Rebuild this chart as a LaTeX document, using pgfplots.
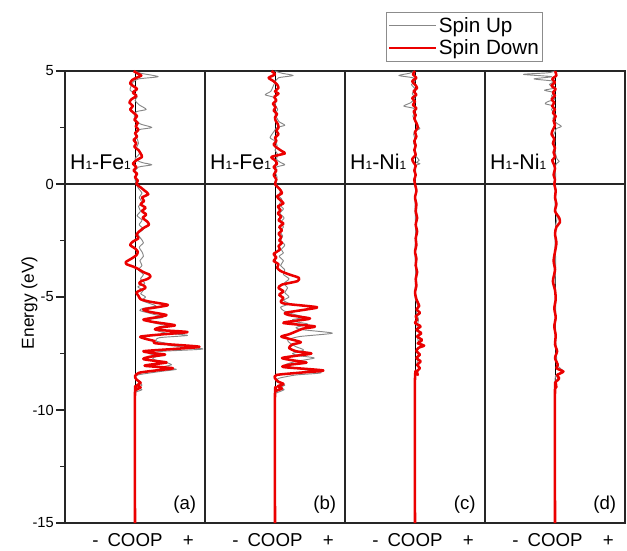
\documentclass[border=0pt]{standalone}
\usepackage{pgfplots}
\usepackage{pgfplotstable}
\pgfplotsset{compat=1.18}
\usepackage{fontspec}
\setmainfont{Liberation Sans}
\definecolor{spinup}{RGB}{135,135,135}
\definecolor{spindn}{RGB}{235,0,0}

% ---------- panel (a) H1-Fe1 ----------
\pgfplotstableread{
c E
0.0 5.0
0.08 4.9
0.33 4.75
0.05 4.65
-0.03 4.5
-0.06 4.3
-0.07 4.15
0.0 4.0
0.03 3.85
0.0 3.7
0.06 3.5
0.16 3.3
0.02 3.2
-0.01 3.0
0.02 2.8
0.08 2.65
0.24 2.5
0.05 2.4
0.0 2.2
0.03 2.0
0.05 1.8
0.02 1.6
0.07 1.4
0.04 1.25
0.0 1.1
0.1 0.95
0.24 0.85
0.05 0.75
0.0 0.55
0.02 0.4
0.0 0.2
0.02 0.0
0.05 -0.2
0.1 -0.4
0.06 -0.6
0.1 -0.8
0.05 -1.0
0.08 -1.2
0.03 -1.4
0.1 -1.6
0.06 -1.8
0.12 -2.0
0.04 -2.2
0.08 -2.4
0.12 -2.6
0.06 -2.8
0.1 -3.0
0.12 -3.2
0.07 -3.4
0.1 -3.6
0.05 -3.8
0.12 -4.0
0.08 -4.2
0.14 -4.4
0.04 -4.55
0.12 -4.7
0.08 -4.85
0.15 -5.0
0.1 -5.15
0.22 -5.3
0.3 -5.4
0.12 -5.5
0.07 -5.6
0.25 -5.75
0.4 -5.9
0.2 -6.0
0.28 -6.15
0.47 -6.3
0.3 -6.45
0.45 -6.6
0.75 -6.7
0.35 -6.8
0.3 -6.95
0.45 -7.05
0.5 -7.15
0.97 -7.3
0.4 -7.4
0.2 -7.5
0.33 -7.6
0.25 -7.7
0.3 -7.8
0.45 -7.9
0.52 -8.0
0.4 -8.1
0.59 -8.2
0.35 -8.3
0.04 -8.45
0.0 -8.6
0.05 -8.75
0.1 -8.9
0.04 -9.0
0.1 -9.1
0.02 -9.2
0.0 -9.35
0.0 -15
}\aup
\pgfplotstableread{
c E
-0.02 5.0
0.03 4.9
0.09 4.8
0.02 4.7
-0.04 4.6
-0.07 4.45
-0.01 4.3
0.03 4.2
-0.03 4.05
0.02 3.9
-0.05 3.75
-0.08 3.6
-0.03 3.45
-0.07 3.3
-0.02 3.15
0.03 3.0
-0.01 2.85
0.04 2.7
0.01 2.55
0.05 2.4
0.0 2.25
0.03 2.1
-0.02 1.95
0.02 1.8
-0.01 1.65
0.05 1.5
0.08 1.35
0.1 1.2
0.02 1.05
-0.03 0.9
0.02 0.75
-0.02 0.6
0.03 0.45
0.0 0.3
0.04 0.15
0.02 0.0
0.08 -0.15
0.14 -0.3
0.19 -0.45
0.1 -0.6
0.13 -0.75
0.08 -0.9
0.15 -1.05
0.1 -1.2
0.16 -1.35
0.11 -1.5
0.17 -1.65
0.2 -1.8
0.12 -1.95
0.06 -2.1
0.02 -2.25
0.05 -2.4
-0.03 -2.55
-0.07 -2.7
0.0 -2.85
0.04 -3.0
0.02 -3.15
-0.05 -3.3
-0.13 -3.45
-0.12 -3.55
-0.03 -3.65
0.04 -3.75
0.12 -3.9
0.2 -4.0
0.22 -4.1
0.18 -4.2
0.09 -4.3
0.06 -4.4
0.13 -4.5
0.15 -4.6
0.08 -4.7
0.02 -4.8
0.05 -4.95
0.08 -5.1
0.2 -5.2
0.47 -5.35
0.32 -5.45
0.12 -5.55
0.2 -5.65
0.45 -5.8
0.3 -5.9
0.12 -6.0
0.25 -6.1
0.57 -6.25
0.35 -6.35
0.3 -6.45
0.75 -6.55
0.4 -6.65
0.08 -6.75
0.15 -6.85
0.28 -6.95
0.3 -7.05
0.92 -7.2
0.55 -7.3
0.12 -7.4
0.3 -7.5
0.43 -7.55
0.2 -7.65
0.12 -7.75
0.35 -7.85
0.45 -7.9
0.2 -8.0
0.15 -8.05
0.54 -8.15
0.3 -8.25
0.06 -8.35
0.0 -8.5
0.02 -8.65
0.08 -8.8
0.03 -8.9
0.08 -9.0
0.02 -9.1
0.0 -9.25
0.0 -15
}\adn

% ---------- panel (b) H1-Fe1 ----------
\pgfplotstableread{
c E
0.0 5.0
0.1 4.9
0.26 4.8
0.05 4.7
0.0 4.5
-0.03 4.3
-0.06 4.1
-0.14 3.95
-0.03 3.85
0.02 3.7
0.0 3.5
0.04 3.3
0.0 3.1
0.03 2.9
0.06 2.75
0.14 2.6
0.03 2.5
-0.02 2.3
-0.07 2.05
0.0 1.9
0.03 1.7
0.0 1.5
0.04 1.3
0.02 1.1
0.08 0.95
0.14 0.85
0.02 0.75
0.0 0.55
0.03 0.3
0.0 0.1
0.04 -0.1
0.08 -0.3
0.05 -0.5
0.1 -0.7
0.06 -0.9
0.12 -1.1
0.07 -1.3
0.13 -1.5
0.08 -1.7
0.12 -1.9
0.07 -2.1
0.11 -2.3
0.08 -2.5
0.14 -2.7
0.09 -2.9
0.12 -3.05
0.06 -3.2
0.12 -3.4
0.08 -3.6
0.14 -3.8
0.12 -4.0
0.2 -4.2
0.13 -4.4
0.18 -4.6
0.14 -4.8
0.2 -5.0
0.12 -5.15
0.2 -5.3
0.08 -5.45
0.12 -5.6
0.25 -5.75
0.42 -5.9
0.25 -6.0
0.3 -6.1
0.47 -6.2
0.3 -6.35
0.4 -6.45
0.82 -6.6
0.35 -6.75
0.18 -6.9
0.22 -7.05
0.3 -7.2
0.41 -7.35
0.25 -7.5
0.35 -7.6
0.56 -7.7
0.3 -7.85
0.15 -8.0
0.3 -8.15
0.66 -8.35
0.3 -8.45
0.05 -8.6
0.02 -8.75
0.14 -8.9
0.06 -9.0
0.13 -9.1
0.02 -9.25
0.0 -9.4
0.0 -15
}\bup
\pgfplotstableread{
c E
-0.05 5.0
0.0 4.85
-0.09 4.7
-0.02 4.55
0.03 4.4
0.05 4.25
0.0 4.1
0.05 4.0
-0.01 3.85
0.02 3.7
-0.03 3.55
0.01 3.4
-0.02 3.25
0.03 3.1
0.0 2.95
0.01 2.8
0.04 2.65
0.05 2.5
0.02 2.35
0.05 2.2
0.0 2.05
0.02 1.9
-0.02 1.75
0.03 1.6
0.1 1.45
0.14 1.35
-0.05 1.2
0.0 1.05
0.03 0.9
-0.02 0.75
0.02 0.6
-0.02 0.4
0.02 0.2
0.0 0.0
0.06 -0.2
0.1 -0.4
0.03 -0.55
0.07 -0.7
0.12 -0.85
0.04 -1.0
0.08 -1.15
0.04 -1.3
0.09 -1.45
0.05 -1.6
0.12 -1.75
0.06 -1.9
0.1 -2.05
0.05 -2.2
0.09 -2.35
0.06 -2.5
0.1 -2.6
0.05 -2.75
0.07 -2.9
-0.02 -3.1
0.02 -3.25
-0.02 -3.4
0.05 -3.55
0.03 -3.7
0.08 -3.85
0.2 -4.0
0.34 -4.15
0.32 -4.3
0.1 -4.45
0.05 -4.6
0.12 -4.75
0.06 -4.9
0.12 -5.05
0.08 -5.2
0.15 -5.3
0.6 -5.45
0.45 -5.55
0.15 -5.7
0.2 -5.8
0.5 -5.95
0.3 -6.05
0.12 -6.15
0.57 -6.3
0.4 -6.4
0.28 -6.55
0.2 -6.65
0.09 -6.75
0.2 -6.85
0.37 -7.0
0.25 -7.1
0.2 -7.25
0.3 -7.4
0.52 -7.5
0.3 -7.6
0.1 -7.7
0.25 -7.8
0.45 -7.9
0.2 -8.0
0.12 -8.1
0.69 -8.25
0.35 -8.35
0.02 -8.45
0.0 -8.6
0.05 -8.75
0.12 -8.85
0.04 -8.95
0.1 -9.05
0.02 -9.15
0.0 -9.3
0.0 -15
}\bdn

% ---------- panel (c) H1-Ni1 ----------
\pgfplotstableread{
c E
0.0 5.0
-0.08 4.9
-0.23 4.8
-0.03 4.7
0.0 4.55
-0.05 4.4
0.0 4.2
-0.04 4.0
0.0 3.8
-0.06 3.6
-0.16 3.45
-0.02 3.35
0.0 3.2
-0.03 3.0
0.0 2.8
0.03 2.6
0.07 2.45
0.0 2.35
-0.02 2.2
0.0 2.0
-0.02 1.8
0.01 1.6
-0.01 1.4
0.02 1.2
0.06 1.05
0.02 0.95
0.07 0.9
0.0 0.8
0.01 0.6
0.0 0.3
0.0 0.0
0.01 -0.3
0.0 -1.0
0.01 -2.0
0.0 -3.0
0.01 -4.0
0.0 -5.0
0.04 -5.4
0.02 -5.7
0.05 -6.0
0.03 -6.3
0.06 -6.6
0.04 -6.9
0.12 -7.15
0.03 -7.3
0.05 -7.6
0.03 -7.9
0.06 -8.2
0.02 -8.4
0.0 -8.6
0.0 -15
}\cup
\pgfplotstableread{
c E
0.0 5.0
-0.03 4.85
0.02 4.7
-0.04 4.55
0.0 4.4
0.03 4.25
-0.02 4.1
0.02 3.95
-0.04 3.8
0.0 3.65
-0.03 3.5
0.02 3.35
-0.02 3.2
0.01 3.05
-0.01 2.9
0.02 2.7
0.04 2.5
0.0 2.3
0.02 2.1
-0.01 1.9
0.01 1.7
-0.01 1.5
0.01 1.3
-0.04 1.1
-0.02 0.95
0.01 0.8
-0.01 0.6
0.01 0.4
-0.01 0.2
0.0 0.0
0.02 -0.3
0.0 -0.6
0.02 -0.9
0.01 -1.2
0.03 -1.5
0.01 -1.8
0.03 -2.1
0.01 -2.4
0.02 -2.7
0.0 -3.0
0.02 -3.3
0.01 -3.6
0.03 -3.9
0.01 -4.2
0.02 -4.5
0.0 -4.8
0.02 -5.1
0.06 -5.4
0.02 -5.55
0.07 -5.7
0.01 -5.85
0.03 -6.0
0.0 -6.15
0.08 -6.3
0.02 -6.45
0.09 -6.6
0.03 -6.75
0.1 -6.9
0.04 -7.05
0.13 -7.15
0.05 -7.25
0.02 -7.4
0.07 -7.55
0.02 -7.7
0.08 -7.85
0.03 -8.0
0.07 -8.15
0.02 -8.3
0.04 -8.45
0.0 -8.6
0.0 -15
}\cdn

% ---------- panel (d) H1-Ni1 ----------
\pgfplotstableread{
c E
0.0 5.0
-0.1 4.92
-0.45 4.85
-0.05 4.75
-0.3 4.65
-0.02 4.55
-0.08 4.4
0.0 4.25
-0.15 4.15
-0.02 4.05
-0.05 3.9
0.0 3.75
-0.1 3.65
-0.14 3.55
-0.02 3.45
-0.05 3.3
0.0 3.1
-0.03 2.9
0.02 2.7
0.09 2.55
0.02 2.45
0.0 2.3
-0.03 2.1
0.0 1.9
-0.02 1.7
0.0 1.5
0.01 1.3
0.03 1.1
0.06 1.0
0.02 0.9
0.0 0.7
0.01 0.4
0.0 0.0
0.01 -0.5
0.0 -1.0
0.03 -1.5
0.01 -1.8
0.0 -2.5
0.01 -3.5
0.0 -4.5
0.01 -5.5
0.0 -6.5
0.02 -7.4
0.03 -8.0
0.12 -8.3
0.02 -8.45
0.04 -8.6
0.0 -8.8
0.0 -15
}\dup
\pgfplotstableread{
c E
0.0 5.0
0.02 4.8
-0.04 4.65
0.0 4.5
-0.05 4.35
0.01 4.2
-0.03 4.05
0.0 3.9
-0.05 3.75
-0.01 3.6
-0.04 3.45
0.0 3.3
-0.03 3.15
0.01 3.0
-0.02 2.8
0.0 2.6
-0.03 2.4
-0.05 2.2
-0.01 2.0
-0.03 1.8
0.0 1.6
-0.02 1.4
0.0 1.2
-0.04 1.05
-0.02 0.9
0.0 0.7
-0.02 0.4
0.0 0.2
-0.01 0.0
0.01 -0.3
0.0 -0.6
0.02 -0.9
0.0 -1.2
0.06 -1.5
0.07 -1.7
0.02 -1.9
0.0 -2.2
0.02 -2.6
0.0 -3.0
-0.02 -3.4
0.0 -3.8
-0.03 -4.3
0.0 -4.7
0.01 -5.1
-0.01 -5.5
0.01 -5.9
-0.01 -6.3
0.01 -6.7
0.0 -7.1
0.03 -7.4
0.0 -7.7
0.04 -8.0
0.02 -8.15
0.12 -8.3
0.03 -8.45
0.06 -8.6
0.0 -8.8
0.02 -9.0
0.0 -9.1
0.0 -15
}\ddn

\pgfplotsset{
  panel/.style={
    scale only axis, width=105pt, height=339pt,
    xmin=-1, xmax=1, ymin=-15, ymax=5,
    xtick=\empty, ytick=\empty, clip=false,
    axis line style={line width=0.9pt, draw=black!85},
    anchor=south west,
  },
  upline/.style={spinup, line width=0.7pt, line join=round, smooth, tension=0.4},
  dnline/.style={spindn, line width=1.9pt, line join=round, smooth, tension=0.4},
}
\newcommand{\panelstuff}[2]{%
  \addplot[black, line width=0.75pt, forget plot] coordinates {(0,-15) (0,5)};
  \addplot[black!85, line width=0.9pt, forget plot] coordinates {(-1,0) (1,0)};
  \node[anchor=base west, font=\fontsize{16}{16}\selectfont, inner sep=0pt] at (axis description cs:0.035,0.781) {H{\fontsize{9}{9}\selectfont 1}-#1{\fontsize{9}{9}\selectfont 1}};
  \node[anchor=base, font=\fontsize{14}{14}\selectfont, inner sep=0pt] at (axis description cs:0.855,0.029) {(#2)};
  \node[anchor=base, font=\fontsize{14}{14}\selectfont, inner sep=0pt] at (axis description cs:0.218,-0.053) {-};
  \node[anchor=base, font=\fontsize{14}{14}\selectfont, inner sep=0pt] at (axis description cs:0.5,-0.053) {COOP};
  \node[anchor=base, font=\fontsize{14}{14}\selectfont, inner sep=0pt] at (axis description cs:0.88,-0.053) {+};
}

\begin{document}
\begin{tikzpicture}
\useasboundingbox (0,0) rectangle (470.25pt,412.5pt);
\begin{axis}[panel, at={(48.75pt,20.25pt)},
  ytick={-15,-10,-5,0,5},
  yticklabels={\mbox{-15},\mbox{-10},\mbox{-5},\mbox{0},\mbox{5}},
  minor ytick={-12.5,-7.5,-2.5,2.5},
  ytick pos=left, tick align=outside,
  major tick length=6.75pt, minor tick length=3.75pt,
  tick style={line width=0.9pt, black!85},
  yticklabel style={font=\fontsize{11}{11}\selectfont, inner sep=1.5pt},
  ylabel={Energy (eV)},
  ylabel style={at={(axis description cs:-0.255,0.487)}, anchor=center, font=\fontsize{13}{13}\selectfont},
  legend style={at={(axis description cs:2.293,1.1305)}, anchor=north west,
    draw=black!45, line width=0.6pt, inner xsep=1pt, inner ysep=2pt,
    font=\fontsize{15.5}{17}\selectfont, row sep=1pt,
    nodes={inner sep=1.5pt}},
  legend cell align=left,
  legend image code/.code={\draw[#1] (0pt,0pt) -- (35pt,0pt);},
]
\panelstuff{Fe}{a}
\addplot[upline] table[x=c,y=E] {\aup};
\addlegendentry{Spin Up}
\addplot[dnline] table[x=c,y=E] {\adn};
\addlegendentry{Spin Down}
\end{axis}
\begin{axis}[panel, at={(153.75pt,20.25pt)}]
\panelstuff{Fe}{b}
\addplot[upline] table[x=c,y=E] {\bup};
\addplot[dnline] table[x=c,y=E] {\bdn};
\end{axis}
\begin{axis}[panel, at={(258.75pt,20.25pt)}]
\panelstuff{Ni}{c}
\addplot[upline] table[x=c,y=E] {\cup};
\addplot[dnline] table[x=c,y=E] {\cdn};
\end{axis}
\begin{axis}[panel, at={(363.75pt,20.25pt)}]
\panelstuff{Ni}{d}
\addplot[upline] table[x=c,y=E] {\dup};
\addplot[dnline] table[x=c,y=E] {\ddn};
\end{axis}
\end{tikzpicture}
\end{document}
